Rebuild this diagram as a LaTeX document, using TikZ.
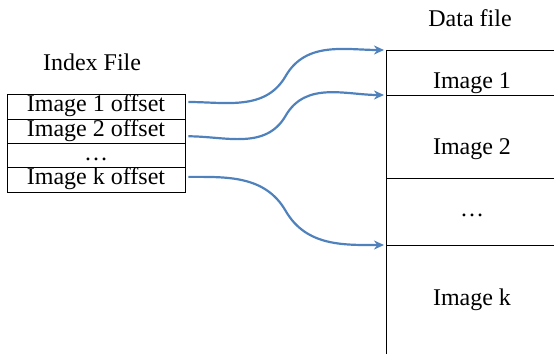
\documentclass[tikz,border=0pt]{standalone}
\usepackage{fontspec}
\setmainfont{Liberation Serif}
\usepackage{xcolor}
\usetikzlibrary{
    arrows.meta,
    positioning,
    calc
}
\definecolor{linkblue}{RGB}{79,129,189}
\tikzset{%
    >={Stealth[width=9pt,length=10pt]},
    % Specifications for style of nodes:
    plain/.style = {font=\fontsize{24}{26}\selectfont, inner sep=0pt},
    cell/.style = {
        plain,
        rectangle, draw=black, line width=0.8pt,
        minimum width=178pt, minimum height=24.3pt,
        text height=15pt, text depth=5pt,
        text centered
    },
    link/.style = {->, draw=linkblue, line width=2.2pt, shorten <=3pt, shorten >=2pt}
}

\begin{document}
\begin{tikzpicture}[x=1pt, y=1pt]
    \useasboundingbox (0,0) rectangle (554,354);
    % index file
    \node[plain] (idxtitle) at (92,292) {Index File};
    \node[cell] (idx1) at (96,247) {Image 1 offset};
    \node[cell, below=-0.8pt of idx1] (idx2) {Image 2 offset};
    \node[cell, below=-0.8pt of idx2] (idx3) {\dots};
    \node[cell, below=-0.8pt of idx3] (idxk) {Image k offset};
    % data file
    \node[plain] (datatitle) at (470,336) {Data file};
    \coordinate (d0) at (386,304);
    \coordinate (d1) at (386,259);
    \coordinate (d2) at (386,176);
    \coordinate (d3) at (386,109);
    \coordinate (dend) at (386,0);
    \draw[line width=0.8pt] (d0) -- (dend);
    \foreach \d in {d0,d1,d2,d3}
        \draw[line width=0.8pt] (\d) -- ++(168,0);
    \node[plain] (img1) at (472,271) {Image 1};
    \node[plain] (img2) at (472,205) {Image 2};
    \node[plain] (imgdots) at (472,139) {\dots};
    \node[plain] (imgk) at (472,54) {Image k};
    % offsets point into the data file
    \coordinate (s1) at ([yshift=5pt]idx1.east);
    \coordinate (s2) at ([yshift=-5pt]idx2.east);
    \coordinate (sk) at ([yshift=3pt]idxk.east);
    \draw[link] (s1) to[out=0,in=-120] ($(s1)!.5!(d0)$) to[out=60,in=180] (d0);
    \draw[link] (s2) to[out=0,in=-120] ($(s2)!.5!(d1)$) to[out=60,in=180] (d1);
    \draw[link] (sk) to[out=0,in=120] ($(sk)!.5!(d3)$) to[out=-60,in=180] (d3);
\end{tikzpicture}
\end{document}
